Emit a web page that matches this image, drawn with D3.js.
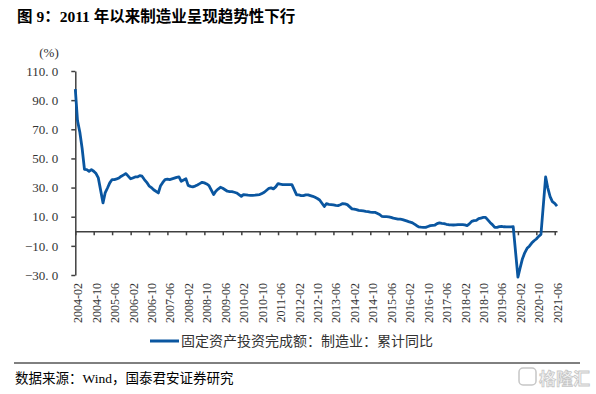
<!DOCTYPE html>
<html>
<head>
<meta charset="utf-8">
<script src="https://cdn.jsdelivr.net/npm/d3@7"></script>
<style>
  html, body { margin: 0; padding: 0; background: #fff; }
  svg { display: block; }
</style>
</head>
<body>
<svg id="chart" width="596" height="394"></svg>
<script>
// ---------------- data ----------------
const categories = [
  "2004-02","2004-03","2004-04","2004-05","2004-06","2004-07","2004-08","2004-09","2004-10","2004-11","2004-12",
  "2005-02","2005-03","2005-04","2005-05","2005-06","2005-07","2005-08","2005-09","2005-10","2005-11","2005-12",
  "2006-02","2006-03","2006-04","2006-05","2006-06","2006-07","2006-08","2006-09","2006-10","2006-11","2006-12",
  "2007-02","2007-03","2007-04","2007-05","2007-06","2007-07","2007-08","2007-09","2007-10","2007-11","2007-12",
  "2008-02","2008-03","2008-04","2008-05","2008-06","2008-07","2008-08","2008-09","2008-10","2008-11","2008-12",
  "2009-02","2009-03","2009-04","2009-05","2009-06","2009-07","2009-08","2009-09","2009-10","2009-11","2009-12",
  "2010-02","2010-03","2010-04","2010-05","2010-06","2010-07","2010-08","2010-09","2010-10","2010-11","2010-12",
  "2011-02","2011-03","2011-04","2011-05","2011-06","2011-07","2011-08","2011-09","2011-10","2011-11","2011-12",
  "2012-02","2012-03","2012-04","2012-05","2012-06","2012-07","2012-08","2012-09","2012-10","2012-11","2012-12",
  "2013-02","2013-03","2013-04","2013-05","2013-06","2013-07","2013-08","2013-09","2013-10","2013-11","2013-12",
  "2014-02","2014-03","2014-04","2014-05","2014-06","2014-07","2014-08","2014-09","2014-10","2014-11","2014-12",
  "2015-02","2015-03","2015-04","2015-05","2015-06","2015-07","2015-08","2015-09","2015-10","2015-11","2015-12",
  "2016-02","2016-03","2016-04","2016-05","2016-06","2016-07","2016-08","2016-09","2016-10","2016-11","2016-12",
  "2017-02","2017-03","2017-04","2017-05","2017-06","2017-07","2017-08","2017-09","2017-10","2017-11","2017-12",
  "2018-02","2018-03","2018-04","2018-05","2018-06","2018-07","2018-08","2018-09","2018-10","2018-11","2018-12",
  "2019-02","2019-03","2019-04","2019-05","2019-06","2019-07","2019-08","2019-09","2019-10","2019-11","2019-12",
  "2020-02","2020-03","2020-04","2020-05","2020-06","2020-07","2020-08","2020-09","2020-10","2020-11","2020-12",
  "2021-02","2021-03","2021-04","2021-05","2021-06","2021-07"
];

const values = [
  97.5, 76.0, 68.0, 57.0, 42.5, 42.3, 41.2, 42.3, 41.2, 39.6, 36.6,
  19.5, 26.3, 29.7, 33.2, 35.5, 35.5, 36.0, 36.6, 37.8, 38.7, 39.6,
  36.0, 36.6, 37.3, 37.3, 38.2, 37.8, 35.5, 33.6, 31.2, 30.0, 28.5,
  26.3, 31.0, 33.5, 35.5, 35.8, 35.5, 36.0, 36.5, 37.0, 37.3, 34.3,
  36.0, 31.5, 30.8, 30.5, 31.0, 31.8, 32.7, 33.6, 33.2, 32.5, 31.4,
  25.2, 27.5, 29.0, 30.2, 29.5, 28.5, 27.5, 27.2, 27.2, 26.8, 26.3,
  24.0, 25.2, 25.0, 24.8, 24.7, 24.7, 24.8, 25.0, 25.2, 26.0, 26.8,
  29.5, 29.8, 29.1, 30.5, 32.7, 32.3, 32.0, 32.0, 32.0, 32.0, 32.0,
  25.0, 25.0, 24.5, 24.5, 25.0, 25.0, 24.5, 24.0, 23.3, 22.5, 21.5,
  17.0, 19.0, 18.5, 18.3, 18.1, 17.8, 17.6, 18.2, 19.0, 18.8, 18.3,
  15.4, 15.2, 14.9, 14.4, 14.2, 14.0, 13.7, 13.5, 13.2, 13.0, 13.0,
  11.5, 10.3, 10.1, 10.0, 9.9, 9.5, 9.0, 8.7, 8.4, 8.3, 8.0,
  7.0, 6.4, 6.0, 5.1, 4.0, 3.0, 2.8, 2.7, 2.7, 3.3, 3.9,
  4.3, 5.3, 5.8, 5.5, 5.3, 4.8, 4.5, 4.4, 4.3, 4.4, 4.6,
  4.6, 4.4, 3.9, 5.1, 6.8, 7.3, 7.5, 8.7, 9.1, 9.5, 9.6,
  5.9, 4.6, 2.7, 2.7, 3.2, 3.3, 3.1, 3.0, 3.0, 3.0, 3.1,
  -31.5, -25.2, -18.8, -14.8, -11.7, -10.2, -8.1, -6.5, -5.3, -3.5, -2.2,
  37.3, 29.8, 23.8, 20.4, 19.2, 17.3
];

const xTickLabels = [
  "2004-02","2004-10","2005-06","2006-02","2006-10","2007-06","2008-02","2008-10","2009-06",
  "2010-02","2010-10","2011-06","2012-02","2012-10","2013-06","2014-02","2014-10","2015-06",
  "2016-02","2016-10","2017-06","2018-02","2018-10","2019-06","2020-02","2020-10","2021-06"
];
const yTicks = [110, 90, 70, 50, 30, 10, -10, -30];

const titleText = "图 9：2011 年以来制造业呈现趋势性下行";
const seriesName = "固定资产投资完成额：制造业：累计同比";
const sourceText = "数据来源：Wind，国泰君安证券研究";
const unitText = "(%)";

// ---------------- drawing ----------------
const parse = d3.timeParse("%Y-%m");
const svg = d3.select("#chart");
const serif = "'Liberation Serif', 'Times New Roman', 'Noto Sans CJK SC', serif";
const cjk = "'Liberation Serif', 'Noto Sans CJK SC', sans-serif";
const axisColor = "#404040";
const lineColor = "#0a56a0";

const x = d3.scaleTime()
  .domain([parse("2004-02"), parse("2021-07")])
  .range([75.3, 557]);
const y = d3.scaleLinear()
  .domain([-30, 110])
  .range([275, 71]);

// title
svg.append("text")
  .attr("x", 17).attr("y", 22)
  .attr("font-family", cjk)
  .attr("font-size", 15.5)
  .attr("font-weight", "bold")
  .attr("fill", "#000")
  .text(titleText);

// unit
svg.append("text")
  .attr("x", 49).attr("y", 57)
  .attr("text-anchor", "middle")
  .attr("font-family", serif)
  .attr("font-size", 13)
  .attr("fill", "#333")
  .text(unitText);

// y axis
const yAxis = d3.axisLeft(y)
  .tickValues(yTicks)
  .tickSize(4)
  .tickSizeOuter(0)
  .tickPadding(13)
  .tickFormat(d => d3.format(".1f")(d).replace(".", ". "));
const gy = svg.append("g")
  .attr("transform", `translate(${x.range()[0]},0)`)
  .call(yAxis);
gy.select(".domain").attr("stroke", axisColor).attr("stroke-width", 1.5);
gy.selectAll(".tick line").attr("stroke", axisColor).attr("stroke-width", 1.5);
gy.selectAll(".tick text")
  .attr("font-family", serif)
  .attr("font-size", 13)
  .attr("fill", "#333");

// x axis at zero
const tickDates = xTickLabels.map(parse);
const xAxis = d3.axisBottom(x)
  .tickValues(tickDates)
  .tickSize(4)
  .tickSizeOuter(0)
  .tickFormat("");
const gx = svg.append("g")
  .attr("transform", `translate(0,${y(0)})`)
  .call(xAxis);
gx.select(".domain").attr("stroke", axisColor).attr("stroke-width", 1.5);
gx.selectAll(".tick line").attr("stroke", axisColor).attr("stroke-width", 1.5);

// x labels (low position)
svg.append("g")
  .selectAll("text")
  .data(xTickLabels)
  .join("text")
  .attr("transform", d => `translate(${x(parse(d)) + 3},283) rotate(-90)`)
  .attr("text-anchor", "end")
  .attr("dominant-baseline", "central")
  .attr("font-family", serif)
  .attr("font-size", 12)
  .attr("fill", "#333")
  .text(d => d);

// line
const points = categories.map((c, i) => ({ date: parse(c), value: values[i] }));
const line = d3.line()
  .x(d => x(d.date))
  .y(d => y(d.value));
svg.append("path")
  .datum(points)
  .attr("d", line)
  .attr("fill", "none")
  .attr("stroke", lineColor)
  .attr("stroke-width", 2.8)
  .attr("stroke-linejoin", "round");

// legend
const lg = svg.append("g");
lg.append("line")
  .attr("x1", 150).attr("x2", 179)
  .attr("y1", 341).attr("y2", 341)
  .attr("stroke", lineColor)
  .attr("stroke-width", 3);
lg.append("text")
  .attr("x", 181).attr("y", 341)
  .attr("dominant-baseline", "central")
  .attr("font-family", cjk)
  .attr("font-size", 14)
  .attr("fill", "#333")
  .text(seriesName);

// separator
svg.append("line")
  .attr("x1", 14).attr("x2", 580)
  .attr("y1", 363).attr("y2", 363)
  .attr("stroke", "#000")
  .attr("stroke-width", 1);

// source
svg.append("text")
  .attr("x", 15).attr("y", 378)
  .attr("dominant-baseline", "central")
  .attr("font-family", cjk)
  .attr("font-size", 13.5)
  .attr("fill", "#000")
  .text(sourceText);

// watermark
const wm = svg.append("g").attr("opacity", 0.55);
wm.append("rect")
  .attr("x", 519).attr("y", 368).attr("width", 17).attr("height", 17)
  .attr("rx", 4)
  .attr("fill", "none")
  .attr("stroke", "#999")
  .attr("stroke-width", 1.5);
wm.append("text")
  .attr("x", 539).attr("y", 377)
  .attr("dominant-baseline", "central")
  .attr("font-family", "'Noto Sans CJK SC', sans-serif")
  .attr("font-size", 17)
  .attr("font-weight", "bold")
  .attr("fill", "#eee")
  .attr("stroke", "#999")
  .attr("stroke-width", 0.8)
  .text("格隆汇");
</script>
</body>
</html>
